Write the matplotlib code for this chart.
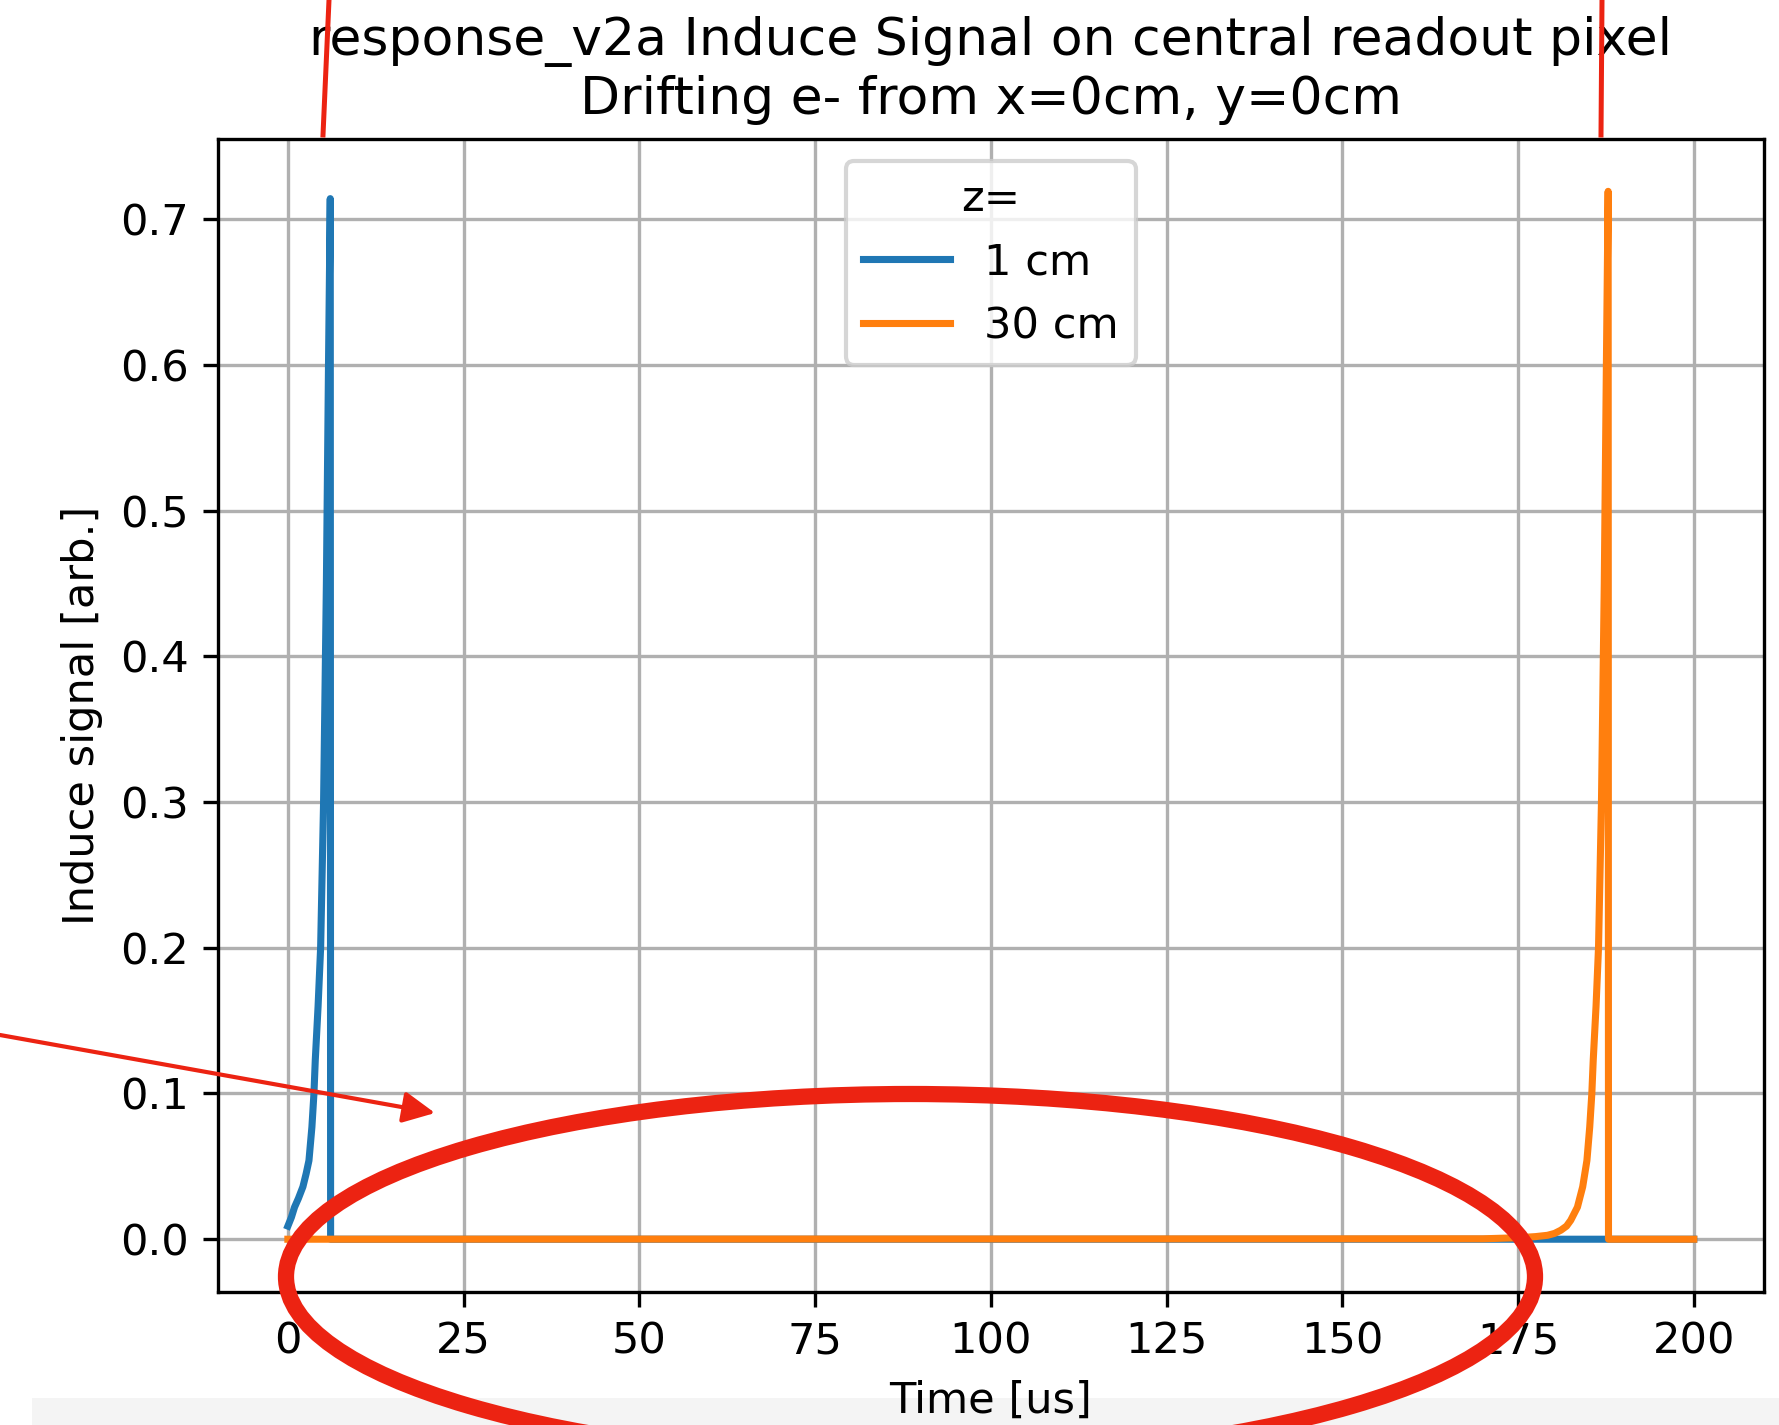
import matplotlib

matplotlib.use("Agg")

import matplotlib.pyplot as plt
from matplotlib.patches import Ellipse, FancyArrowPatch, Rectangle
from matplotlib.lines import Line2D

# induced signal, z = 1 cm
blue_t = [0.0, 0.5, 0.95, 1.5, 2.14, 2.6, 3.0, 3.42, 3.71, 3.9, 4.3, 4.66, 5.08, 5.48, 5.78, 6.03, 6.08, 200.0]
blue_v = [0.009, 0.015, 0.022, 0.028, 0.036, 0.045, 0.054, 0.077, 0.1, 0.123, 0.16, 0.2, 0.3, 0.45, 0.6, 0.714, 0.0, 0.0]

# z = 30 cm
orange_t = [0.0, 170.0, 175.0, 177.5, 179.2, 180.2, 181.1, 181.9, 182.5, 183.45, 184.2, 184.8, 185.2, 185.5,
            185.7, 186.1, 186.45, 186.87, 187.27, 187.57, 187.82, 187.87, 200.0]
orange_v = [0.0, 0.0003, 0.001, 0.0018, 0.0027, 0.004, 0.0062, 0.009, 0.013, 0.022, 0.036, 0.054, 0.077, 0.1,
            0.123, 0.16, 0.2, 0.3, 0.45, 0.6, 0.719, 0.0, 0.0]

labels = ["1 cm", "30 cm"]

W, H = 1779, 1425
RED = "#ec2312"


def px(x, y):
    # screenshot pixel (top-left origin) -> figure fraction
    return x / W, 1 - y / H


def main():
    plt.rcParams["font.size"] = 10.4

    fig = plt.figure(figsize=(W / 300, H / 300), dpi=300)
    ax = fig.add_axes([0.1223, 0.0936, 0.8693, 0.8089])

    ax.plot(blue_t, blue_v, label=labels[0], lw=1.7)
    ax.plot(orange_t, orange_v, label=labels[1], lw=1.7)
    ax.set_title("response_v2a Induce Signal on central readout pixel\n"
                 "Drifting e- from x=0cm, y=0cm")
    ax.set_xlabel("Time [us]")
    ax.set_ylabel("Induce signal [arb.]")
    ax.grid(True)
    ax.legend(title="z=", loc="upper center")

    # light strip at the bottom of the screenshot
    x0, y0 = px(32, H)
    fig.patches.append(Rectangle((x0, y0), 1 - x0, 27 / H, transform=fig.transFigure,
                                 facecolor="#f4f4f4", edgecolor="none", zorder=-1))

    # red hand annotations
    for (xa, ya), (xb, yb) in [((329, 0), (323, 135)), ((1602, 0), (1601, 135))]:
        p, q = px(xa, ya), px(xb, yb)
        fig.lines.append(Line2D([p[0], q[0]], [p[1], q[1]], transform=fig.transFigure,
                                color=RED, lw=1.2, zorder=10))

    arrow = FancyArrowPatch(px(0, 1035), px(435, 1113), transform=fig.transFigure,
                            arrowstyle="-|>,head_length=6.5,head_width=3.2",
                            color=RED, lw=1.0, shrinkA=0, shrinkB=0, zorder=10)
    fig.patches.append(arrow)

    ell = Ellipse(px(910.5, 1276.7), 2 * 624.5 / W, 2 * 182.7 / H,
                  transform=fig.transFigure, fill=False, edgecolor=RED,
                  lw=3.9, zorder=10)
    fig.patches.append(ell)

    fig.savefig("out.png", dpi=300)
    plt.close(fig)


if __name__ == "__main__":
    main()
